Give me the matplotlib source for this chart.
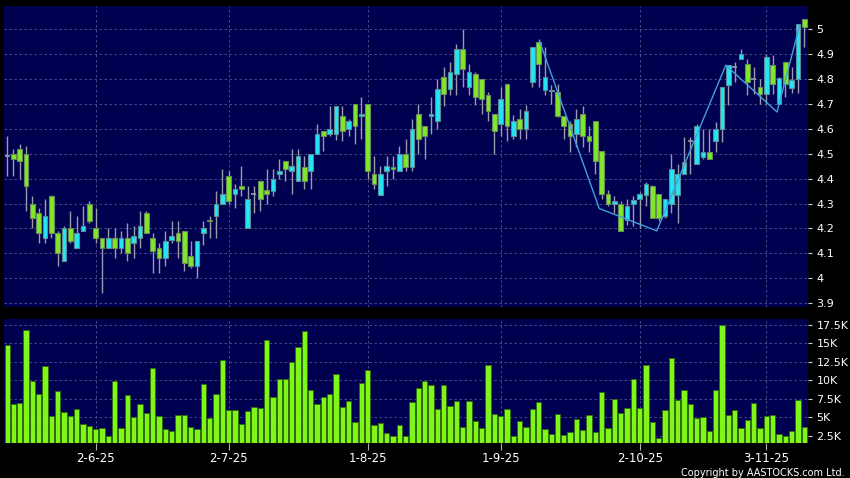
import matplotlib.pyplot as plt
import numpy as np

# OHLC quotidiens, index 0 .. 126
opens = [4.49, 4.50, 4.52, 4.50, 4.30, 4.26, 4.16, 4.33, 4.18, 4.07,
         4.20, 4.12, 4.19, 4.30, 4.20, 4.16, 4.12, 4.16, 4.12, 4.16,
         4.14, 4.16, 4.26, 4.16, 4.12, 4.08, 4.155, 4.18, 4.19, 4.09,
         4.05, 4.18, 4.235, 4.25, 4.30, 4.41, 4.34, 4.37, 4.20, 4.34,
         4.39, 4.355, 4.35, 4.42, 4.47, 4.43, 4.39, 4.445, 4.43, 4.50,
         4.59, 4.58, 4.58, 4.65, 4.60, 4.70, 4.65, 4.70, 4.42, 4.335,
         4.43, 4.445, 4.43, 4.50, 4.447, 4.66, 4.61, 4.65, 4.63, 4.81,
         4.76, 4.82, 4.92, 4.77, 4.82, 4.80, 4.735, 4.66, 4.62, 4.78,
         4.57, 4.64, 4.60, 4.79, 4.95, 4.755, 4.753, 4.75, 4.65, 4.62,
         4.58, 4.66, 4.57, 4.63, 4.51, 4.34, 4.30, 4.30, 4.235, 4.30,
         4.32, 4.333, 4.37, 4.34, 4.25, 4.30, 4.333, 4.42, 4.55, 4.46,
         4.487, 4.507, 4.55, 4.60, 4.776, 4.85, 4.88, 4.86, 4.80, 4.767,
         4.74, 4.856, 4.70, 4.87, 4.763, 4.80, 5.04]
highs = [4.57, 4.52, 4.54, 4.53, 4.33, 4.28, 4.32, 4.335, 4.19, 4.21,
         4.27, 4.25, 4.29, 4.31, 4.28, 4.16, 4.20, 4.20, 4.19, 4.22,
         4.21, 4.27, 4.27, 4.18, 4.14, 4.19, 4.23, 4.23, 4.19, 4.15,
         4.15, 4.23, 4.25, 4.35, 4.44, 4.43, 4.38, 4.45, 4.37, 4.37,
         4.39, 4.44, 4.44, 4.48, 4.47, 4.52, 4.52, 4.49, 4.50, 4.62,
         4.59, 4.69, 4.69, 4.69, 4.64, 4.70, 4.73, 4.70, 4.49, 4.45,
         4.49, 4.49, 4.53, 4.56, 4.64, 4.70, 4.61, 4.73, 4.80, 4.85,
         4.87, 4.94, 5.00, 4.86, 4.83, 4.80, 4.75, 4.66, 4.77, 4.78,
         4.655, 4.68, 4.695, 4.93, 4.96, 4.93, 4.776, 4.78, 4.65, 4.63,
         4.68, 4.69, 4.611, 4.63, 4.51, 4.353, 4.33, 4.31, 4.32, 4.33,
         4.345, 4.387, 4.375, 4.34, 4.32, 4.50, 4.46, 4.568, 4.568, 4.62,
         4.60, 4.60, 4.628, 4.77, 4.856, 4.87, 4.92, 4.88, 4.85, 4.80,
         4.90, 4.897, 4.81, 4.87, 4.85, 5.02, 5.04]
lows = [4.41, 4.41, 4.40, 4.27, 4.20, 4.14, 4.14, 4.16, 4.05, 4.07,
        4.14, 4.12, 4.19, 4.22, 4.14, 3.94, 4.12, 4.08, 4.10, 4.07,
        4.08, 4.12, 4.18, 4.02, 4.02, 4.05, 4.14, 4.08, 4.03, 4.04,
        4.00, 4.135, 4.16, 4.16, 4.30, 4.30, 4.28, 4.33, 4.20, 4.26,
        4.27, 4.30, 4.33, 4.40, 4.39, 4.34, 4.39, 4.36, 4.36, 4.50,
        4.51, 4.57, 4.555, 4.55, 4.57, 4.54, 4.56, 4.40, 4.36, 4.335,
        4.37, 4.40, 4.43, 4.43, 4.43, 4.50, 4.48, 4.58, 4.60, 4.69,
        4.735, 4.735, 4.77, 4.735, 4.695, 4.66, 4.63, 4.50, 4.57, 4.55,
        4.56, 4.56, 4.56, 4.77, 4.77, 4.735, 4.70, 4.648, 4.56, 4.507,
        4.528, 4.528, 4.507, 4.42, 4.32, 4.29, 4.26, 4.19, 4.213, 4.21,
        4.20, 4.29, 4.24, 4.23, 4.24, 4.26, 4.22, 4.42, 4.42, 4.46,
        4.48, 4.48, 4.507, 4.548, 4.695, 4.79, 4.88, 4.735, 4.74, 4.70,
        4.70, 4.74, 4.70, 4.73, 4.745, 4.745, 4.93]
closes = [4.49, 4.48, 4.47, 4.37, 4.24, 4.18, 4.25, 4.18, 4.10, 4.20,
          4.15, 4.18, 4.21, 4.23, 4.16, 4.12, 4.16, 4.12, 4.16, 4.10,
          4.17, 4.21, 4.18, 4.11, 4.08, 4.15, 4.17, 4.15, 4.06, 4.05,
          4.15, 4.20, 4.23, 4.30, 4.34, 4.31, 4.36, 4.36, 4.32, 4.34,
          4.32, 4.34, 4.40, 4.43, 4.44, 4.45, 4.49, 4.39, 4.50, 4.58,
          4.57, 4.60, 4.69, 4.59, 4.63, 4.61, 4.66, 4.43, 4.38, 4.42,
          4.45, 4.44, 4.50, 4.447, 4.60, 4.56, 4.57, 4.66, 4.76, 4.74,
          4.83, 4.92, 4.84, 4.83, 4.73, 4.72, 4.67, 4.59, 4.72, 4.61,
          4.63, 4.60, 4.67, 4.93, 4.86, 4.81, 4.758, 4.65, 4.61, 4.57,
          4.64, 4.57, 4.55, 4.47, 4.34, 4.30, 4.31, 4.19, 4.29, 4.313,
          4.34, 4.378, 4.24, 4.24, 4.32, 4.44, 4.42, 4.467, 4.55, 4.61,
          4.507, 4.48, 4.60, 4.77, 4.856, 4.85, 4.90, 4.79, 4.80, 4.74,
          4.89, 4.78, 4.806, 4.78, 4.796, 5.02, 5.01]
# volume en milliers
volumes = [14.79, 6.80, 6.97, 16.82, 9.95, 8.15, 11.94, 5.17, 8.52, 5.71,
           5.17, 6.07, 4.04, 3.86, 3.37, 3.50, 2.50, 9.95, 3.58, 7.97,
           5.08, 6.75, 5.53, 11.63, 5.17, 3.37, 3.18, 5.35, 5.26, 3.64,
           3.46, 9.46, 4.86, 8.15, 12.72, 5.98, 5.98, 4.04, 5.89, 6.35,
           6.30, 15.47, 7.78, 10.14, 10.14, 12.49, 14.48, 16.64, 8.69, 6.80,
           7.70, 8.11, 10.86, 6.35, 7.20, 4.40, 9.60, 11.40, 3.91, 4.26,
           2.87, 2.50, 3.95, 2.46, 7.02, 8.92, 9.91, 9.41, 6.16, 9.33,
           6.52, 7.20, 3.63, 7.20, 4.49, 3.59, 12.08, 5.48, 5.17, 6.12,
           2.45, 4.53, 3.72, 6.16, 7.07, 3.37, 2.73, 5.44, 2.59, 3.04,
           4.80, 3.32, 5.30, 2.99, 8.38, 3.55, 7.47, 5.53, 6.29, 10.22,
           6.29, 12.12, 4.40, 2.23, 5.98, 13.07, 7.34, 8.73, 6.80, 4.94,
           5.03, 3.14, 8.69, 17.50, 5.26, 5.98, 3.59, 4.63, 6.89, 3.50,
           5.12, 5.30, 2.78, 2.41, 3.08, 7.34, 3.72]

# ligne en zigzag (position en index, prix)
zz_x = [84.2, 93.6, 102.7, 113.6, 121.7, 125.3]
zz_y = [4.95, 4.28, 4.19, 4.856, 4.668, 5.017]

date_idx = [14, 35, 57, 78, 100, 120]
date_labels = ['2-6-25', '2-7-25', '1-8-25', '1-9-25', '2-10-25', '3-11-25']
price_ticks = [3.9, 4.0, 4.1, 4.2, 4.3, 4.4, 4.5, 4.6, 4.7, 4.8, 4.9, 5.0]
price_labels = ['3.9', '4', '4.1', '4.2', '4.3', '4.4', '4.5', '4.6', '4.7', '4.8', '4.9', '5']
vol_ticks = [2.5, 5, 7.5, 10, 12.5, 15, 17.5]
vol_labels = ['2.5K', '5K', '7.5K', '10K', '12.5K', '15K', '17.5K']

NAVY = '#000050'
GRID = '#55558a'
UP = '#22e6f6'
DOWN = '#80e82a'
WICK = '#9a9aaa'

fig = plt.figure(figsize=(8.5, 4.78), dpi=100, facecolor='black')
W, H = 850, 478
ax = fig.add_axes([4 / W, 1 - 307 / H, 804 / W, 301 / H], facecolor=NAVY)
axv = fig.add_axes([4 / W, 1 - 443.3 / H, 804 / W, 124.3 / H], facecolor=NAVY, sharex=ax)

x = np.arange(len(opens))
o = np.array(opens); h = np.array(highs); l = np.array(lows); c = np.array(closes)

# mèches
ax.vlines(x, l, h, color=WICK, lw=1, zorder=2)
# corps
up = c > o
down = c < o
doji = ~(up | down)
ax.bar(x[up], (c - o)[up], bottom=o[up], width=0.74, color=UP,
       edgecolor='#5a8c96', lw=0.8, zorder=3)
ax.bar(x[down], (o - c)[down], bottom=c[down], width=0.74, color=DOWN,
       edgecolor='#6a8c5a', lw=0.8, zorder=3)
ax.hlines(o[doji], x[doji] - 0.4, x[doji] + 0.4, color=WICK, lw=1.2, zorder=3)

ax.plot(zz_x, zz_y, color='#3fa0e0', lw=1, zorder=4)

ax.set_xlim(-0.5, 126.6)
ax.set_ylim(3.884, 5.094)

# volume
axv.bar(x, volumes, width=0.84, color='#7ff51a', edgecolor='#2f6a0a', lw=0.6, zorder=3)
axv.set_ylim(1.47, 18.31)

for a in (ax, axv):
    a.yaxis.tick_right()
    a.set_xticks(date_idx)
    a.grid(True, color=GRID, ls=(0, (3, 3)), lw=0.6)
    a.set_axisbelow(True)
    for s in a.spines.values():
        s.set_visible(False)
    a.tick_params(axis='y', colors='#d0d0d0', labelcolor='white', length=3,
                  width=0.8, pad=3, labelsize=8)

ax.set_yticks(price_ticks)
ax.set_yticklabels(price_labels)
ax.tick_params(axis='x', length=0, labelbottom=False)

axv.set_yticks(vol_ticks)
axv.set_yticklabels(vol_labels)
axv.set_xticklabels(date_labels)
axv.tick_params(axis='x', colors='#b0b0b0', labelcolor='white', length=5,
                width=0.8, pad=1.5, labelsize=8.5)

fig.text(845 / W, 1 - 477.5 / H, 'Copyright by AASTOCKS.com Ltd.', color='white',
         fontsize=7, ha='right', va='bottom')

fig.savefig('out.png', dpi=100, facecolor='black')
